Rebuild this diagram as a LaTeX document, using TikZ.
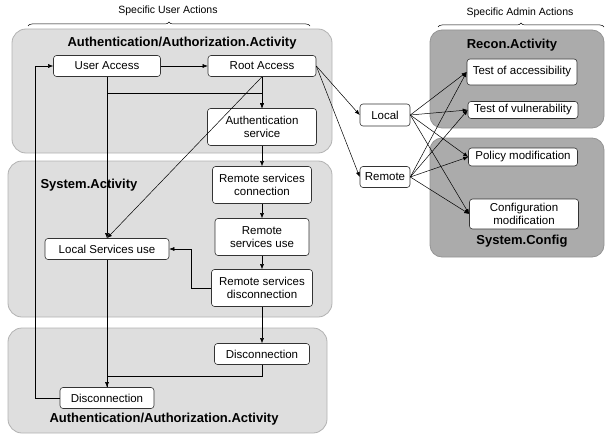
\documentclass[tikz,border=0pt]{standalone}
\usepackage{fontspec}
\setmainfont{Liberation Sans}
\usetikzlibrary{arrows.meta,decorations.pathreplacing}
\begin{document}
\begin{tikzpicture}[x=1pt,y=-1pt]
\tikzset{userarea/.style={
rounded corners=14pt,
draw=black!30,fill=black!13,
line width=0.8pt}}

\tikzset{adminarea/.style={
rounded corners=12pt,
draw=black!42,fill=black!33,
line width=0.8pt}}

\tikzset{action/.style={
rectangle,draw=black!80,fill=white,
rounded corners=3pt,line width=0.6pt,
inner sep=1pt,
font=\fontsize{11.5}{13}\selectfont,
align=center}}

\tikzset{areatitle/.style={
font=\fontsize{13}{15}\selectfont\bfseries}}

\tikzset{flow/.style={-{Latex[length=5pt,width=4pt]},line width=0.5pt}}

\tikzset{sidebrace/.style={
decorate,decoration={brace,amplitude=4pt},
line width=0.5pt}}

\useasboundingbox (0,0) rectangle (605,436);

\draw[userarea] (12,29) rectangle (332,153);
\draw[userarea] (8,161) rectangle (332,317);
\draw[userarea] (8,328) rectangle (327,433);
\draw[adminarea] (430,30) rectangle (604,128);
\draw[adminarea] (430,138) rectangle (604,257);

\draw
(168,11) node[font=\fontsize{10.5}{12}\selectfont] {Specific User Actions}
(520,13) node[font=\fontsize{10.5}{12}\selectfont] {Specific Admin Actions};
\draw[sidebrace] (28,26) -- (310,26);
\draw[sidebrace] (438,27) -- (604,27);

\draw
(182,43) node[areatitle] {Authentication/Authorization.Activity}
(37,185) node[areatitle,anchor=west] {System.Activity}
(164,419) node[areatitle] {Authentication/Authorization.Activity}
(512,45) node[areatitle] {Recon.Activity}
(522,241) node[areatitle] {System.Config};

\draw
(107,66) node[action,name=uUserAccess,minimum width=107pt,minimum height=21pt] {User Access}
(262,66) node[action,name=uRootAccess,minimum width=108pt,minimum height=21pt] {Root Access}
(262,127) node[action,name=uAuthService,minimum width=109pt,minimum height=37pt] {Authentication\\service};

\draw
(262,185) node[action,name=uRemoteConn,minimum width=99pt,minimum height=37pt] {Remote services\\connection}
(262,237) node[action,name=uRemoteUse,minimum width=94pt,minimum height=37pt] {Remote\\services use}
(262,288) node[action,name=uRemoteDisc,minimum width=101pt,minimum height=37pt] {Remote services\\disconnection}
(107,249) node[action,name=uLocalUse,minimum width=124pt,minimum height=21pt] {Local Services use};

\draw
(262,354) node[action,name=uDiscRemote,minimum width=95pt,minimum height=21pt] {Disconnection}
(107,398) node[action,name=uDiscUser,minimum width=94pt,minimum height=21pt] {Disconnection};

\draw
(385,115) node[action,name=uLocal,minimum width=50pt,minimum height=22pt] {Local}
(385,177) node[action,name=uRemote,minimum width=50pt,minimum height=21pt] {Remote};

\draw
(522,72) node[action,name=uTestAccess,minimum width=110pt,minimum height=26pt] {Test of accessibility}
(523,110) node[action,name=uTestVuln,minimum width=110pt,minimum height=17pt] {Test of vulnerability}
(523,157) node[action,name=uPolicyMod,minimum width=109pt,minimum height=18pt] {Policy modification}
(524,214) node[action,name=uConfigMod,minimum width=109pt,minimum height=30pt] {Configuration\\modification};

\draw[flow] (uUserAccess) -- (uRootAccess);
\draw[flow] (uRootAccess.south) -- (uAuthService.north);
\draw[flow] (uUserAccess.south) -- ++(0,16) -| (uAuthService.north);
\draw[flow] (uUserAccess.south) -- (uLocalUse.north);
\draw[flow] (uRootAccess.south) -- (uLocalUse.north);
\draw[flow] (uAuthService) -- (uRemoteConn);
\draw[flow] (uRemoteConn) -- (uRemoteUse);
\draw[flow] (uRemoteUse) -- (uRemoteDisc);
\draw[flow] (uRemoteDisc.west) -- ++(-20,0) |- (uLocalUse.east);
\draw[flow] (uRemoteDisc) -- (uDiscRemote);
\draw[flow] (uLocalUse) -- (uDiscUser);
\draw (uDiscRemote.south) -- ++(0,11) -| (uDiscUser.north);
\draw[flow] (uDiscUser.west) -- ++(-24,0) |- (uUserAccess.west);

\draw[flow] (uRootAccess.east) -- (uLocal.west);
\draw[flow] (uRootAccess.east) -- (uRemote.west);

\foreach \src in {uLocal,uRemote}
  \foreach \dst in {uTestAccess,uTestVuln,uPolicyMod,uConfigMod}
    \draw[flow] (\src.east) -- (\dst.west);

\end{tikzpicture}
\end{document}
